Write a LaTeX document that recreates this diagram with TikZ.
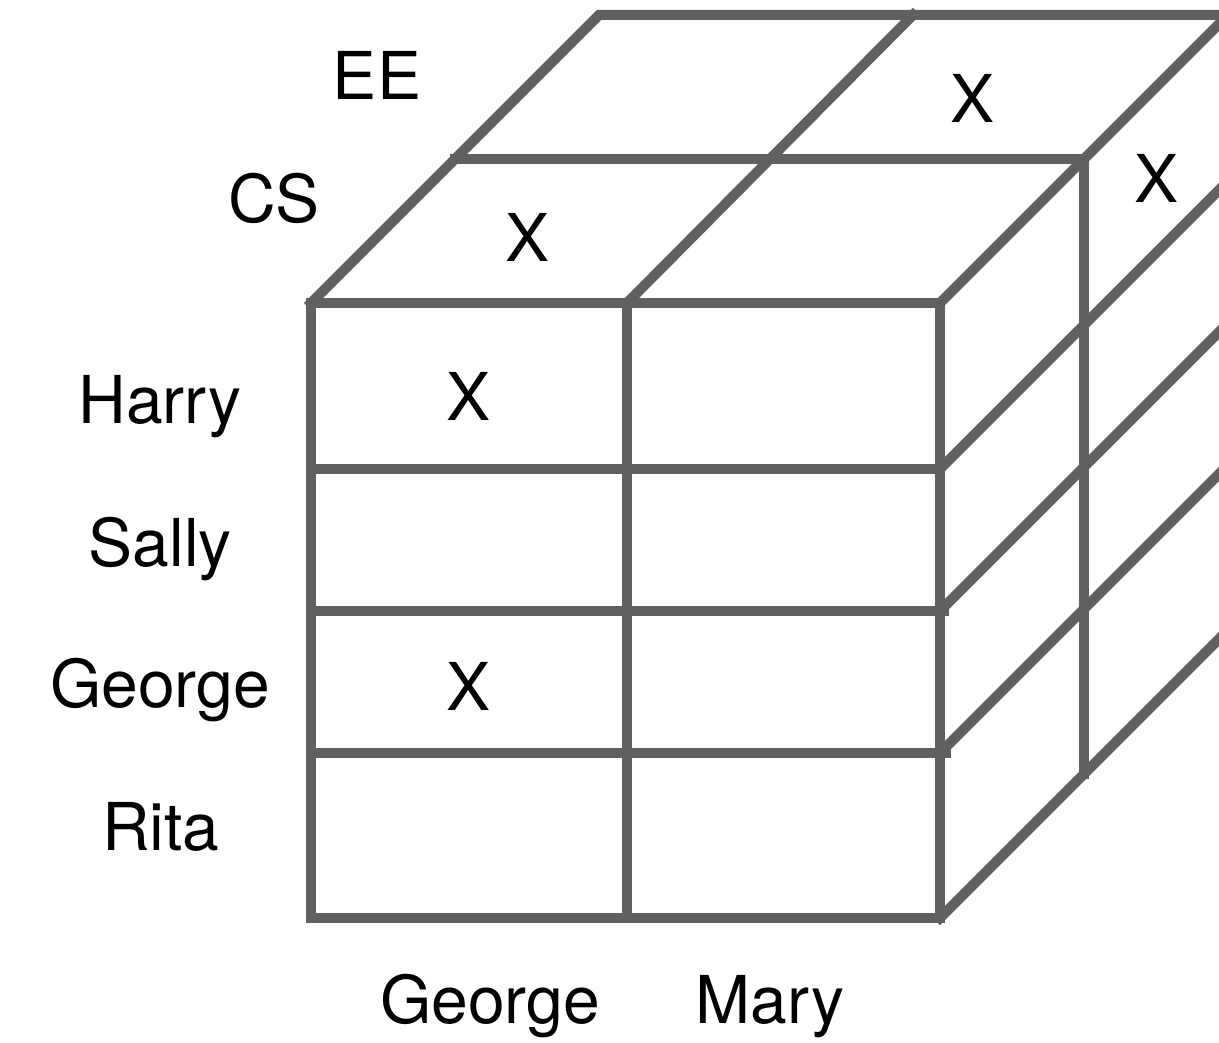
\documentclass[tikz,border=0pt]{standalone}
\usepackage{fontspec}
\setmainfont{TeX Gyre Heros}
\definecolor{edge}{HTML}{606060}
\begin{document}
\begin{tikzpicture}[x=1pt,y=-1pt,
  grid/.style={draw=edge,line width=10pt,line cap=rect,line join=miter},
  lbl/.style={anchor=base,inner sep=0pt,text=black,font=\fontsize{66}{70}\selectfont}]
\useasboundingbox (0,0) rectangle (1219,1043);
% corners of the front face
\coordinate (ftl) at (311,303);
\coordinate (ftm) at (627,303);
\coordinate (ftr) at (940,303);
\coordinate (fbl) at (311,918);
\coordinate (fbm) at (627,918);
\coordinate (fbr) at (940,918);
% depth layers: middle (CS/EE boundary) and back
\coordinate (mtl) at (455,159);
\coordinate (mtr) at (1084,159);
\coordinate (mbr) at (1084,774);
\coordinate (btl) at (599,15);
\coordinate (btm) at (913,15);
\coordinate (btr) at (1228,15);
\begin{scope}
\clip (0,0) rectangle (1219,1043);
% front face
\draw[grid] (ftl) -- (ftr) -- (fbr) -- (fbl) -- cycle;
\draw[grid] (ftm) -- (fbm);
\draw[grid] (311,469) -- (940,469);
\draw[grid] (311,611) -- (944,611);
\draw[grid] (318,753) -- (946,753);
% top face
\draw[grid] (ftl) -- (btl) -- (btr) -- (ftr);
\draw[grid] (ftm) -- (btm);
\draw[grid] (mtl) -- (mtr);
% right face
\draw[grid] (mtr) -- (mbr);
\draw[grid] (940,469) -- ++(288,-288);
\draw[grid] (940,611) -- ++(288,-288);
\draw[grid] (940,753) -- ++(288,-288);
\draw[grid] (fbr) -- ++(288,-288);
\end{scope}
% depth labels
\node[lbl] (ee) at (377,100) {EE};
\node[lbl] (cs) at (274,223) {CS};
% row labels
\node[lbl] (harry) at (160,423) {Harry};
\node[lbl] (sally) at (160,566) {Sally};
\node[lbl] (georgerow) at (160,707) {George};
\node[lbl] (rita) at (161,850) {Rita};
% column labels
\node[lbl] (georgecol) at (490,1023) {George};
\node[lbl] (mary) at (770,1023) {Mary};
% marks
\node[lbl] (x1) at (528,262) {X};
\node[lbl] (x2) at (469,420) {X};
\node[lbl] (x3) at (469,710) {X};
\node[lbl] (x4) at (973,123) {X};
\node[lbl] (x5) at (1157,203) {X};
\end{tikzpicture}
\end{document}
